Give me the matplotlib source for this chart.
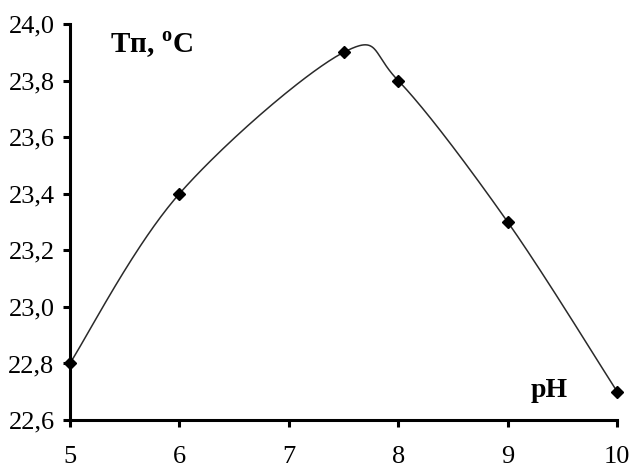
import numpy as np
import matplotlib
matplotlib.use("Agg")
import matplotlib.pyplot as plt
from matplotlib.ticker import FixedLocator, FuncFormatter

ph = [5, 6, 7.5, 8, 9, 10]
temp = [22.8, 23.4, 23.9, 23.8, 23.3, 22.7]
xticks = [5, 6, 7, 8, 9, 10]
yticks = [22.6, 22.8, 23.0, 23.2, 23.4, 23.6, 23.8, 24.0]

plt.rcParams['font.family'] = ['Liberation Serif', 'DejaVu Serif']
plt.rcParams['mathtext.fontset'] = 'custom'
plt.rcParams['mathtext.rm'] = 'Liberation Serif:bold'
plt.rcParams['mathtext.bf'] = 'Liberation Serif:bold'

fig = plt.figure(figsize=(6.35, 4.73), dpi=100)
ax = fig.add_axes([0.110, 0.112, 0.862, 0.837])
ax.set_xlim(5, 10)
ax.set_ylim(22.6, 24.0)

# Excel-style smoothed line (Catmull-Rom Bezier) computed in axes-size space
bbox = ax.get_position()
W = bbox.width * 6.35
H = bbox.height * 4.73
x = np.array(ph, float)
y = np.array(temp, float)
px = (x - 5) / 5 * W
py = (y - 22.6) / 1.4 * H
P = np.column_stack([px, py])
n = len(P)
curve = []
t = np.linspace(0, 1, 60)
for i in range(n - 1):
    p0 = P[i - 1] if i > 0 else P[i]
    p1 = P[i]
    p2 = P[i + 1]
    p3 = P[i + 2] if i + 2 < n else P[i + 1]
    c1 = p1 + (p2 - p0) / 6
    c2 = p2 - (p3 - p1) / 6
    seg = ((1 - t) ** 3)[:, None] * p1 + (3 * (1 - t) ** 2 * t)[:, None] * c1 \
        + (3 * (1 - t) * t ** 2)[:, None] * c2 + (t ** 3)[:, None] * p2
    curve.append(seg)
curve = np.vstack(curve)
cx = curve[:, 0] / W * 5 + 5
cy = curve[:, 1] / H * 1.4 + 22.6

ax.plot(cx, cy, color='#2a2a2a', lw=1.1, clip_on=False)
ax.plot(ph, temp, linestyle='none', marker='D', color='black', markersize=6.5, clip_on=False, zorder=3)

for s in ['top', 'right']:
    ax.spines[s].set_visible(False)
for s in ['left', 'bottom']:
    ax.spines[s].set_linewidth(2.2)
    ax.spines[s].set_color('black')

ax.xaxis.set_major_locator(FixedLocator(xticks))
ax.yaxis.set_major_locator(FixedLocator(yticks))
ax.yaxis.set_major_formatter(FuncFormatter(lambda v, p: f"{v:.1f}".replace('.', ',')))
ax.xaxis.set_major_formatter(FuncFormatter(lambda v, p: f"{v:g}"))
ax.tick_params(direction='out', length=5, width=2.2, labelsize=19, colors='black')
ax.tick_params(axis='x', pad=14)
ax.tick_params(axis='y', pad=6)

ax.text(5.37, 23.925, r'Tп, $^{\mathrm{o}}$C', fontsize=21, fontweight='bold', ha='left', va='center')
ax.text(9.55, 22.705, 'pH', fontsize=20, fontweight='bold', ha='right', va='center')

fig.savefig('out.png', dpi=100, facecolor='white')
